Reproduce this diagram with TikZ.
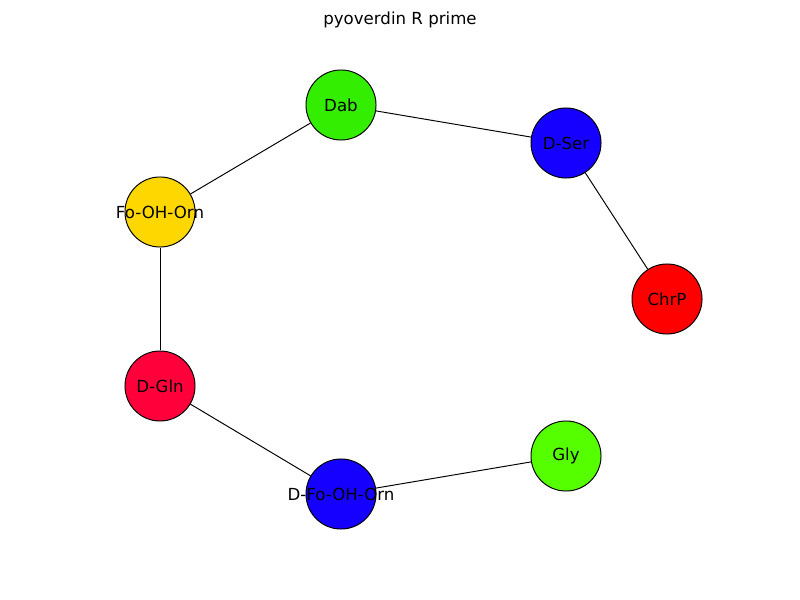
\documentclass[tikz,border=0pt]{standalone}
\usepackage{fontspec}
\setmainfont{DejaVu Sans}
\usetikzlibrary{positioning}
\definecolor{dabgreen}{HTML}{33EE00}
\definecolor{serblue}{HTML}{1500FF}
\definecolor{ornyellow}{HTML}{FFD700}
\definecolor{chrred}{HTML}{FF0000}
\definecolor{glnred}{HTML}{FF003B}
\definecolor{glygreen}{HTML}{55FF00}

\begin{document}
\begin{tikzpicture}[x=0.01in, y=-0.01in]
    \tikzstyle{residue} = [circle, draw, line width=0.7pt, minimum size=0.7in,
    inner sep=0pt, font=\fontsize{12pt}{14pt}\selectfont]
    \tikzstyle{line} = [draw, line width=0.7pt]
    \useasboundingbox [fill=white] (0,0) rectangle (800,600);
    \node [font=\fontsize{12pt}{14pt}\selectfont] (title) at (400,20) {pyoverdin R prime};
    \node [residue, fill=dabgreen] (dab) at (341,105) {\makebox[0pt]{Dab}};
    \node [residue, fill=serblue] (dser) at (566,143) {\makebox[0pt]{D-Ser}};
    \node [residue, fill=ornyellow] (foohorn) at (160,212) {\makebox[0pt]{Fo-OH-Orn}};
    \node [residue, fill=chrred] (chrp) at (667,299) {\makebox[0pt]{ChrP}};
    \node [residue, fill=glnred] (dgln) at (160,386) {\makebox[0pt]{D-Gln}};
    \node [residue, fill=serblue] (dfoohorn) at (341,494) {\makebox[0pt]{D-Fo-OH-Orn}};
    \node [residue, fill=glygreen] (gly) at (566,456) {\makebox[0pt]{Gly}};
    \path [line] (dab) -- (dser);
    \path [line] (dser) -- (chrp);
    \path [line] (dab) -- (foohorn);
    \path [line] (foohorn) -- (dgln);
    \path [line] (dgln) -- (dfoohorn);
    \path [line] (dfoohorn) -- (gly);
\end{tikzpicture}
\end{document}
